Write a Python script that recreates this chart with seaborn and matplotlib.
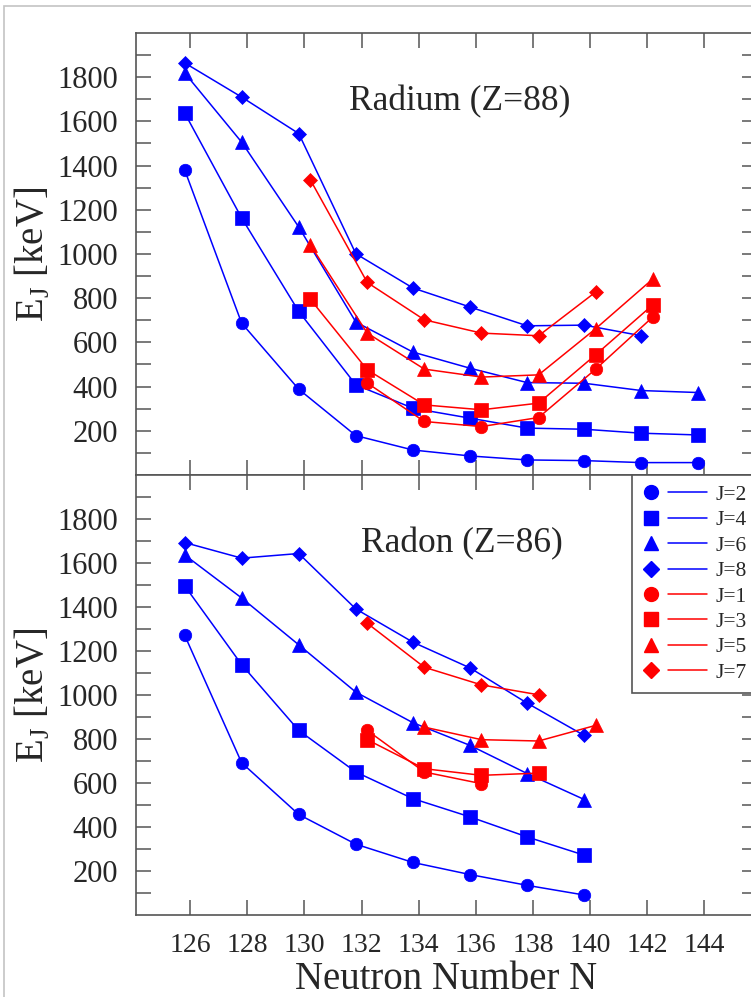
import numpy as np
import matplotlib
matplotlib.use("Agg")
import matplotlib.pyplot as plt
import seaborn as sns
from matplotlib.lines import Line2D
from matplotlib.legend_handler import HandlerBase
from matplotlib.patches import Rectangle
from matplotlib.ticker import FixedLocator

# --- values (keV) ---
# Radium (Z=88)
RA_N = [126, 128, 130, 132, 134, 136, 138, 140, 142, 144]
RA_J2 = [1382, 687, 388, 178, 113, 86, 68, 65, 56, 56]
RA_J4 = [1639, 1163, 740, 408, 302, 257, 212, 207, 189, 181]
RA_J6 = [1820, 1506, 1122, 692, 556, 483, 418, 415, 382, 373]
RA_J8_N = [126, 128, 130, 132, 134, 136, 138, 140, 142]
RA_J8 = [1865, 1710, 1545, 1001, 846, 760, 675, 678, 630]
RA_J1_N = [132, 134, 136, 138, 140, 142]
RA_J1 = [416, 242, 219, 260, 479, 715]
RA_J3_N = [130, 132, 134, 136, 138, 140, 142]
RA_J3 = [796, 476, 317, 295, 325, 544, 770]
RA_J5_N = [130, 132, 134, 136, 138, 140, 142]
RA_J5 = [1042, 642, 479, 443, 453, 662, 887]
RA_J7_N = [130, 132, 134, 136, 138, 140]
RA_J7 = [1337, 871, 702, 642, 630, 828]

# Radon (Z=86)
RN_N = [126, 128, 130, 132, 134, 136, 138, 140]
RN_J2 = [1273, 692, 457, 322, 239, 184, 135, 91]
RN_J4 = [1497, 1138, 839, 650, 529, 446, 355, 272]
RN_J6 = [1637, 1441, 1228, 1013, 874, 771, 643, 525]
RN_J8 = [1693, 1622, 1643, 1391, 1240, 1123, 963, 816]
RN_J1_N = [132, 134, 136]
RN_J1 = [839, 650, 597]
RN_J3_N = [132, 134, 136, 138]
RN_J3 = [797, 665, 635, 645]
RN_J5_N = [134, 136, 138, 140]
RN_J5 = [854, 797, 791, 862]
RN_J7_N = [132, 134, 136, 138]
RN_J7 = [1326, 1126, 1046, 1001]

LABELS = ["J=2", "J=4", "J=6", "J=8", "J=1", "J=3", "J=5", "J=7"]
XTICKS = [126, 128, 130, 132, 134, 136, 138, 140, 142, 144]
YTICKS = [200, 400, 600, 800, 1000, 1200, 1400, 1600, 1800]
YMINOR = [100, 300, 500, 700, 900, 1100, 1300, 1500, 1700, 1900]

BLUE, RED = "#0000ff", "#ff0000"
MARKERS = {"o": 9, "s": 9.5, "^": 9.5, "D": 7}
SHIFT = {BLUE: -0.2, RED: 0.2}   # even / odd J drawn slightly apart

radium = [
    ("J=2", RA_N, RA_J2, BLUE, "o"), ("J=4", RA_N, RA_J4, BLUE, "s"),
    ("J=6", RA_N, RA_J6, BLUE, "^"), ("J=8", RA_J8_N, RA_J8, BLUE, "D"),
    ("J=1", RA_J1_N, RA_J1, RED, "o"), ("J=3", RA_J3_N, RA_J3, RED, "s"),
    ("J=5", RA_J5_N, RA_J5, RED, "^"), ("J=7", RA_J7_N, RA_J7, RED, "D"),
]
radon = [
    ("J=2", RN_N, RN_J2, BLUE, "o"), ("J=4", RN_N, RN_J4, BLUE, "s"),
    ("J=6", RN_N, RN_J6, BLUE, "^"), ("J=8", RN_N, RN_J8, BLUE, "D"),
    ("J=1", RN_J1_N, RN_J1, RED, "o"), ("J=3", RN_J3_N, RN_J3, RED, "s"),
    ("J=5", RN_J5_N, RN_J5, RED, "^"), ("J=7", RN_J7_N, RN_J7, RED, "D"),
]

sns.set_theme(style="ticks")
plt.rcParams["font.family"] = ["Liberation Serif", "DejaVu Serif"]

fig = plt.figure(figsize=(7.51, 9.97), dpi=100)
ax1 = fig.add_axes([0.1811, 0.5236, 0.8269, 0.4433])
ax2 = fig.add_axes([0.1811, 0.0822, 0.8269, 0.4414])

# thin grey frame of the original slide
fig.add_artist(Rectangle((4 / 751, -0.01), 1.0, 991 / 997 + 0.01, transform=fig.transFigure,
                         fill=False, ec="#c4c4c4", lw=1.2))


def draw_panel(ax, series):
    for label, n, e, color, marker in series:
        sns.lineplot(x=np.array(n) + SHIFT[color], y=e, ax=ax, color=color, lw=1.1,
                     marker=marker, ms=MARKERS[marker], mec=color, mew=0.5,
                     legend=False, sort=False)
    ax.set_xlim(124.1, 145.85)
    ax.set_ylim(0, 2000)
    ax.xaxis.set_major_locator(FixedLocator(XTICKS))
    ax.yaxis.set_major_locator(FixedLocator(YTICKS))
    ax.yaxis.set_minor_locator(FixedLocator(YMINOR))
    ax.tick_params(which="both", direction="in", length=11, width=1.1, color="#555555",
                   top=True, right=True, pad=13)
    ax.tick_params(axis="y", labelsize=22)
    ax.tick_params(axis="x", labelsize=20)
    for s in ax.spines.values():
        s.set_color("#555555")
        s.set_linewidth(1.2)
    ax.set_ylabel(r"E$_{\mathregular{J}}$ [keV]", fontsize=28, labelpad=3)


draw_panel(ax1, radium)
draw_panel(ax2, radon)
ax1.tick_params(axis="x", labelbottom=False)
ax1.set_xlabel("")
ax2.set_xlabel("Neutron Number N", fontsize=28, labelpad=2)

ax1.text(0.522, 0.844, "Radium (Z=88)", transform=ax1.transAxes, ha="center", va="center", fontsize=25.5)
ax2.text(0.524, 0.843, "Radon (Z=86)", transform=ax2.transAxes, ha="center", va="center", fontsize=25.5)


class MarkerThenLine(HandlerBase):
    # legend entry drawn as: symbol, gap, short line
    def create_artists(self, legend, orig_handle, xdescent, ydescent, width, height, fontsize, trans):
        y = height / 2 - ydescent
        c = orig_handle.get_color()
        dot = Line2D([0.15 * width - xdescent], [y], ls="none", marker=orig_handle.get_marker(),
                     ms=orig_handle.get_markersize(), color=c, mec=c)
        seg = Line2D([0.4 * width - xdescent, width - xdescent], [y, y], color=c, lw=1.1)
        dot.set_transform(trans)
        seg.set_transform(trans)
        return [dot, seg]


handles = [Line2D([], [], color=color, marker=marker, ms=MARKERS[marker] + 1)
           for _, _, _, color, marker in radon]
leg = ax2.legend(handles, LABELS, handler_map={Line2D: MarkerThenLine()}, loc="upper right",
                 bbox_to_anchor=(1, 1), borderaxespad=0, fontsize=15.5, handlelength=3.05,
                 handletextpad=0.42, borderpad=0.45, labelspacing=0.25, fancybox=False,
                 framealpha=1, edgecolor="#555555")
leg.get_frame().set_linewidth(1.2)

fig.savefig("out.png", dpi=100)
